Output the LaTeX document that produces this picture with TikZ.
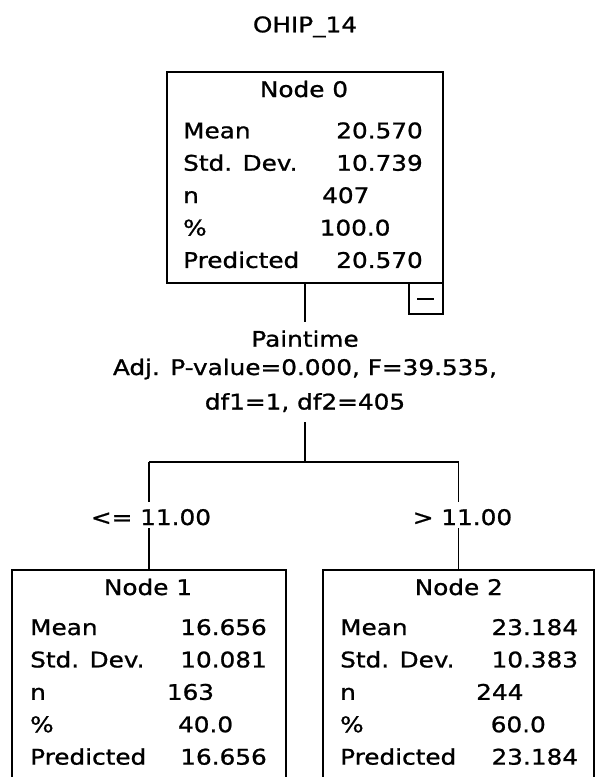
\documentclass[tikz,border=0pt]{standalone}
\usepackage{fontspec}
\setmainfont{DejaVu Sans}[FakeStretch=1.15,FakeBold=1]
\begin{document}
\begin{tikzpicture}[x=1pt,y=-1pt,
  box/.style={draw,line width=1.8pt,inner sep=0pt,outer sep=0pt,fill=none},
  conn/.style={line width=1.8pt},
  txt/.style={inner sep=0pt,font=\fontsize{21.5}{26}\selectfont},
  lw/.style={txt,anchor=base west},
  le/.style={txt,anchor=base east},
  lc/.style={txt,anchor=base}]
\useasboundingbox (0,0) rectangle (595,777);
\clip (0,0) rectangle (595,777);
\fill[white] (0,0) rectangle (595,777);

% title
\node[lc] (title) at (305,32.3) {OHIP\_14};

% Node 0
\node[box,minimum width=276pt,minimum height=211pt,anchor=north west] (n0) at (167,72) {};
\node[box,minimum width=34pt,minimum height=31pt,anchor=north east] (tog) at (n0.south east) {};
\coordinate (m1) at (417,299);
\coordinate (m2) at (434,299);
\draw[line width=2pt] (m1) -- (m2);
\node[lc] (n0t) at (304,97) {Node 0};
\node[lw] (n0a) at (183,138.3) {Mean};
\node[le] (n0av) at (423,138.3) {20.570};
\node[lw] (n0b) at (183,170.7) {Std. Dev.};
\node[le] (n0bv) at (423,170.7) {10.739};
\node[lw] (n0c) at (183,203.1) {n};
\node[lw] (n0cv) at (322,203.1) {407};
\node[lw] (n0d) at (183,235.5) {\%};
\node[le] (n0dv) at (390.7,235.5) {100.0};
\node[lw] (n0e) at (183,267.9) {Predicted};
\node[le] (n0ev) at (423,267.9) {20.570};

% split text
\node[lc] (sp1) at (305,346.7) {Paintime};
\node[lc] (sp2) at (305,375) {Adj. P-value=0.000, F=39.535,};
\node[lc] (sp3) at (305,409.5) {df1=1, df2=405};

% connectors
\coordinate (a) at (305,322);
\coordinate (b) at (305,422);
\coordinate (cm) at (305,462);
\coordinate (cl) at (149,462);
\coordinate (cr) at (458.5,462);
\draw[conn] (a |- n0.south) -- (a);
\draw[conn] (b) -- (cm);
\draw[conn] (cl) -- (cr);

% branch labels
\node[lc] (l1) at (151,525) {<= 11.00};
\node[lc] (l2) at (462.5,525) {> 11.00};
\coordinate (l1t) at (149,502);
\coordinate (l1b) at (149,528);
\coordinate (l2t) at (458.5,502);
\coordinate (l2b) at (458.5,528);
\draw[conn] (cl) -- (l1t);
\draw[conn] (cr) -- (l2t);

% Node 1
\node[box,minimum width=274pt,minimum height=240pt,anchor=north west] (n1) at (12,570) {};
\draw[conn] (l1b) -- (l1b |- n1.north);
\node[lc] (n1t) at (148,595) {Node 1};
\node[lw] (n1a) at (30,635) {Mean};
\node[le] (n1av) at (267,635) {16.656};
\node[lw] (n1b) at (30,667.4) {Std. Dev.};
\node[le] (n1bv) at (267,667.4) {10.081};
\node[lw] (n1c) at (30,699.8) {n};
\node[lw] (n1cv) at (166.7,699.8) {163};
\node[lw] (n1d) at (30,732.2) {\%};
\node[le] (n1dv) at (233.3,732.2) {40.0};
\node[lw] (n1e) at (30,764.6) {Predicted};
\node[le] (n1ev) at (267,764.6) {16.656};

% Node 2
\node[box,minimum width=271pt,minimum height=240pt,anchor=north west] (n2) at (323,570) {};
\draw[conn] (l2b) -- (l2b |- n2.north);
\node[lc] (n2t) at (458.8,595) {Node 2};
\node[lw] (n2a) at (340,635) {Mean};
\node[le] (n2av) at (578.3,635) {23.184};
\node[lw] (n2b) at (340,667.4) {Std. Dev.};
\node[le] (n2bv) at (578.3,667.4) {10.383};
\node[lw] (n2c) at (340,699.8) {n};
\node[lw] (n2cv) at (476,699.8) {244};
\node[lw] (n2d) at (340,732.2) {\%};
\node[le] (n2dv) at (546,732.2) {60.0};
\node[lw] (n2e) at (340,764.6) {Predicted};
\node[le] (n2ev) at (578.3,764.6) {23.184};
\end{tikzpicture}
\end{document}
